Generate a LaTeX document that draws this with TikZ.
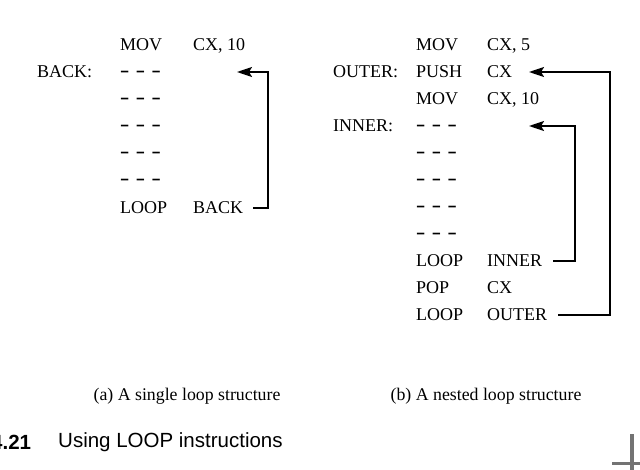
\documentclass[tikz,border=0pt]{standalone}
\usepackage{fontspec}
\setmainfont{Liberation Serif}
\setsansfont{Liberation Sans}
\usetikzlibrary{arrows.meta}
\tikzset{
  x=1pt, y=-1pt,
  code/.style={anchor=west, inner sep=0pt, font=\fontsize{18}{20}\selectfont, text height=12pt, text depth=0pt},
  captext/.style={anchor=center, inner sep=0pt, font=\fontsize{17.8}{20}\selectfont},
  arr/.style={line width=2pt, -{Stealth[length=15pt,width=10pt,inset=3pt]}},
}
\newcommand{\onedash}{\scalebox{0.8}[1.3]{\bfseries\textendash}}
\newcommand{\dashes}{\raisebox{0.5pt}{\onedash\hspace{8.5pt}\onedash\hspace{8.5pt}\onedash}}
\begin{document}
\begin{tikzpicture}
\useasboundingbox (0,0) rectangle (640,470);
\clip (0,0) rectangle (640,470);
% (a)
\node[code] (a1o) at (120,45) {MOV};
\node[code] (a1p) at (193,45) {CX, 10};
\node[code] (alab) at (37,72) {BACK:};
\node[code] (a2o) at (121,72) {\dashes};
\node[code] (a3o) at (121,99) {\dashes};
\node[code] (a4o) at (121,126) {\dashes};
\node[code] (a5o) at (121,153) {\dashes};
\node[code] (a6o) at (121,180) {\dashes};
\node[code] (a7o) at (120,208) {LOOP};
\node[code] (a7p) at (193,208) {BACK};
\coordinate (aS) at (253,208);
\coordinate (aC1) at (268,208);
\coordinate (aC2) at (268,72);
\coordinate (aT) at (237,72);
\draw[arr] (aS) -- (aC1) -- (aC2) -- (aT);
% (b)
\node[code] (b1o) at (416,45) {MOV};
\node[code] (b1p) at (487,45) {CX, 5};
\node[code] (blo) at (333,72) {OUTER:};
\node[code] (b2o) at (416,72) {PUSH};
\node[code] (b2p) at (487,72) {CX};
\node[code] (b3o) at (416,99) {MOV};
\node[code] (b3p) at (487,99) {CX, 10};
\node[code] (bli) at (333,126) {INNER:};
\node[code] (b4o) at (417,126) {\dashes};
\node[code] (b5o) at (417,153) {\dashes};
\node[code] (b6o) at (417,180) {\dashes};
\node[code] (b7o) at (417,207) {\dashes};
\node[code] (b8o) at (417,234) {\dashes};
\node[code] (b9o) at (416,261) {LOOP};
\node[code] (b9p) at (487,261) {INNER};
\node[code] (b10o) at (416,288) {POP};
\node[code] (b10p) at (487,288) {CX};
\node[code] (b11o) at (416,315) {LOOP};
\node[code] (b11p) at (487,315) {OUTER};
\coordinate (iS) at (553,261);
\coordinate (iC1) at (575,261);
\coordinate (iC2) at (575,126);
\coordinate (iT) at (529,126);
\draw[arr] (iS) -- (iC1) -- (iC2) -- (iT);
\coordinate (oS) at (558,315);
\coordinate (oC1) at (610,315);
\coordinate (oC2) at (610,72);
\coordinate (oT) at (529,72);
\draw[arr] (oS) -- (oC1) -- (oC2) -- (oT);
% captions
\node[captext] (capa) at (187,396) {(a) A single loop structure};
\node[captext] (capb) at (486,396) {(b) A nested loop structure};
\node[anchor=west, inner sep=0pt, font=\sffamily\bfseries\fontsize{20.5}{23}\selectfont] (fnum) at (-9,442) {4.21};
\node[anchor=west, inner sep=0pt, font=\sffamily\fontsize{20.5}{23}\selectfont] (ftitle) at (58,442) {Using LOOP instructions};
% crop mark
\fill[black!55] (630,434) rectangle (634,470);
\fill[black!55] (612,462) rectangle (640,465);
\end{tikzpicture}
\end{document}
